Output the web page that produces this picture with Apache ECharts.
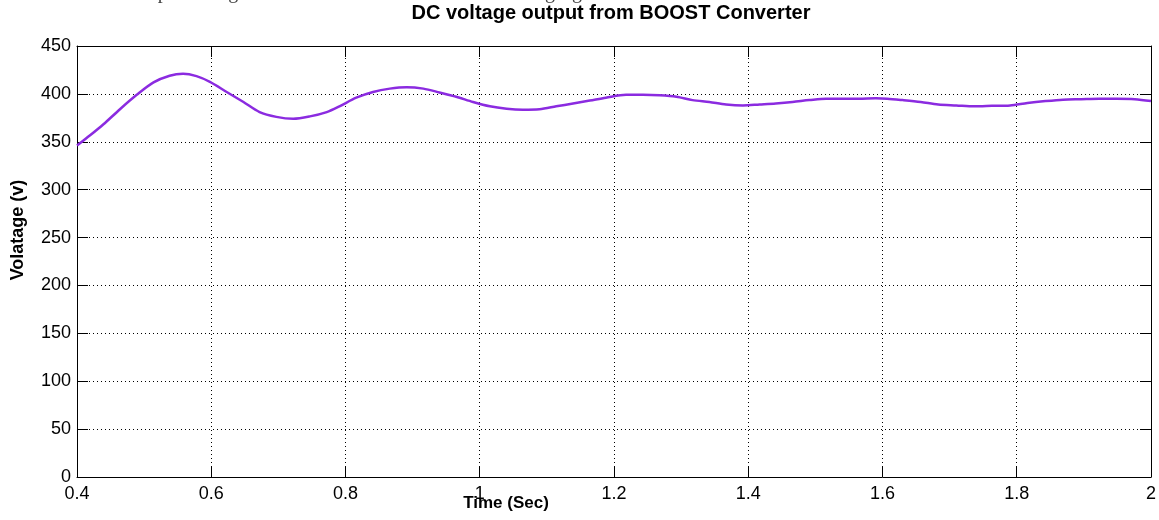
<!DOCTYPE html>
<html>
<head>
<meta charset="utf-8">
<script src="https://cdn.jsdelivr.net/npm/echarts@6/dist/echarts.min.js"></script>
<style>
  html, body { margin: 0; padding: 0; background: #fff; }
  #chart { width: 1159px; height: 520px; }
</style>
</head>
<body>
<div id="chart"></div>
<script>
// values
const timeSec = [0.400, 0.420, 0.439, 0.464, 0.489, 0.514, 0.538, 0.558, 0.578, 0.598,
  0.623, 0.648, 0.672, 0.697, 0.722, 0.747, 0.772, 0.791, 0.816, 0.841,
  0.866, 0.891, 0.916, 0.940, 0.965, 0.990, 1.015, 1.040, 1.064, 1.089,
  1.114, 1.139, 1.164, 1.188, 1.218, 1.243, 1.268, 1.293, 1.317, 1.342,
  1.367, 1.392, 1.417, 1.441, 1.466, 1.491, 1.516, 1.541, 1.565, 1.590,
  1.607, 1.630, 1.657, 1.683, 1.710, 1.737, 1.763, 1.790, 1.816, 1.843,
  1.869, 1.896, 1.923, 1.949, 1.976, 2.000];
const voltage = [346, 357, 368, 384, 399, 412, 419, 421, 418.5, 412.5,
  402, 391.5, 381, 376, 374, 376.5, 381, 387, 396, 402,
  405.5, 407, 405.5, 401.5, 397, 391.5, 387, 384.5, 383.5, 384,
  387, 390, 393, 396, 399, 399, 398.5, 397, 393.5, 391.5,
  389, 388, 389, 390, 391.5, 393.5, 395, 395, 395, 395.5,
  395, 393.5, 391.5, 389, 388, 387, 387.5, 388, 390.5, 392.5,
  394, 394.5, 395, 395, 394.5, 392.5];

const titleText = 'DC voltage output from BOOST Converter';
const xName = 'Time (Sec)';
const yName = 'Volatage (v)';
const captionText = 'Boost converter output voltage waveform has shown in the following figure.';

const font = "'Liberation Sans Narrow', 'Liberation Sans', Arial, sans-serif";
const lineColor = '#8b2be0';

const chart = echarts.init(document.getElementById('chart'));

const points = timeSec.map((t, i) => [t, voltage[i]]);

const tickStyle = { show: true, inside: true, length: 11, lineStyle: { color: '#000', width: 1 } };
const gridDots = { show: true, lineStyle: { color: '#000', width: 1, type: [1, 3] } };

let option = {
  animation: false,
  backgroundColor: '#fff',
  grid: { left: 77, right: 7, top: 46, bottom: 43, show: false },
  graphic: [
    {
      // caption line of the surrounding document, mostly cut off at the top
      type: 'text', silent: true,
      style: { x: 0, y: 3, text: captionText, font: "20px 'Liberation Serif', serif", fill: '#444', verticalAlign: 'bottom' }
    },
    {
      type: 'text', silent: true,
      style: { x: 611, y: 13, text: titleText, font: 'bold 20px ' + font, fill: '#000', align: 'center', verticalAlign: 'middle' }
    },
    {
      type: 'text', silent: true,
      style: { x: 506, y: 503, text: xName, font: 'bold 17px ' + font, fill: '#000', align: 'center', verticalAlign: 'middle' }
    },
    {
      type: 'text', x: 18, y: 230, rotation: Math.PI / 2, silent: true,
      style: { text: yName, font: 'bold 18px ' + font, fill: '#000', align: 'center', verticalAlign: 'middle' }
    }
  ],
  xAxis: [
    {
      type: 'value',
      min: 0.4,
      max: 2,
      interval: 0.2,
      position: 'bottom',
      axisLine: { show: true, onZero: false, lineStyle: { color: '#000', width: 1 } },
      axisTick: tickStyle,
      axisLabel: { color: '#000', fontFamily: font, fontSize: 18, margin: 8,
        formatter: v => String(Math.round(v * 10) / 10) },
      splitLine: gridDots
    },
    {
      type: 'value',
      min: 0.4,
      max: 2,
      interval: 0.2,
      position: 'top',
      axisLine: { show: true, onZero: false, lineStyle: { color: '#000', width: 1 } },
      axisTick: tickStyle,
      axisLabel: { show: false },
      splitLine: { show: false }
    }
  ],
  yAxis: [
    {
      type: 'value',
      min: 0,
      max: 450,
      interval: 50,
      position: 'left',
      axisLine: { show: true, onZero: false, lineStyle: { color: '#000', width: 1 } },
      axisTick: tickStyle,
      axisLabel: { color: '#000', fontFamily: font, fontSize: 18, margin: 6 },
      splitLine: gridDots
    },
    {
      type: 'value',
      min: 0,
      max: 450,
      interval: 50,
      position: 'right',
      axisLine: { show: true, onZero: false, lineStyle: { color: '#000', width: 1 } },
      axisTick: tickStyle,
      axisLabel: { show: false },
      splitLine: { show: false }
    }
  ],
  series: [
    {
      name: 'Voltage',
      type: 'line',
      xAxisIndex: 0,
      yAxisIndex: 0,
      data: points,
      smooth: 0.3,
      showSymbol: false,
      lineStyle: { color: lineColor, width: 2.5 }
    }
  ]
};
chart.setOption(option);
</script>
</body>
</html>
